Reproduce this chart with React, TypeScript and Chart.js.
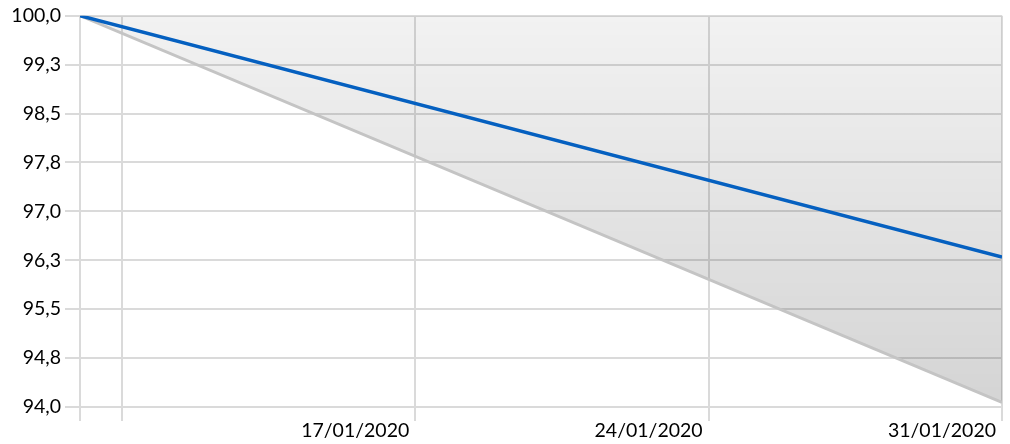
import React, { useEffect, useRef } from 'react';
import { Chart, registerables } from 'chart.js';

Chart.register(...registerables);

// ---- data ----
const pointDates = ['09/01/2020', '31/01/2020'];
const blueValues = [100.0, 96.3];
const grayValues = [100.0, 94.07];
const xTickDates = ['09/01/2020', '10/01/2020', '17/01/2020', '24/01/2020', '31/01/2020'];
const xTickLabels = ['', '', '17/01/2020', '24/01/2020', '31/01/2020'];
const yMin = 94;
const yMax = 100;
const yStep = 0.75;

const parseDate = (s: string) => {
  const [d, m, y] = s.split('/').map(Number);
  return Date.UTC(y, m - 1, d);
};
const baseTime = parseDate(pointDates[0]);
const dayIndex = (s: string) => Math.round((parseDate(s) - baseTime) / 86400000);

const FONT = { family: 'Lato', size: 19.5 };
const GRID = '#dadada';

export default function App() {
  const ref = useRef<HTMLCanvasElement | null>(null);

  useEffect(() => {
    if (!ref.current) return;
    const chart = new Chart(ref.current, {
      type: 'line',
      data: {
        datasets: [
          {
            label: 'blue',
            data: pointDates.map((d, i) => ({ x: dayIndex(d), y: blueValues[i] })),
            borderColor: '#0560c0',
            borderWidth: 3.5,
            pointRadius: 0,
            fill: false,
            tension: 0,
          },
          {
            label: 'gray',
            data: pointDates.map((d, i) => ({ x: dayIndex(d), y: grayValues[i] })),
            borderColor: '#c4c4c4',
            borderWidth: 3,
            pointRadius: 0,
            tension: 0,
            fill: 'end',
            backgroundColor: (ctx: any) => {
              const { chart } = ctx;
              const area = chart.chartArea;
              if (!area) return 'rgba(0,0,0,0.1)';
              const g = chart.ctx.createLinearGradient(0, area.top, 0, area.bottom);
              g.addColorStop(0, 'rgba(0,0,0,0.05)');
              g.addColorStop(1, 'rgba(0,0,0,0.17)');
              return g;
            },
          },
        ],
      },
      options: {
        animation: false,
        responsive: true,
        maintainAspectRatio: false,
        layout: { padding: { top: 15, right: 8, left: 0, bottom: 0 } },
        plugins: { legend: { display: false }, tooltip: { enabled: false } },
        scales: {
          x: {
            type: 'linear',
            min: dayIndex(xTickDates[0]),
            max: dayIndex(xTickDates[xTickDates.length - 1]),
            afterBuildTicks: (scale: any) => {
              scale.ticks = xTickDates.map((d) => ({ value: dayIndex(d) }));
            },
            afterFit: (scale: any) => {
              scale.height = 37;
            },
            grid: { color: GRID, lineWidth: 2, tickLength: 14, drawTicks: true },
            border: { display: false },
            ticks: {
              autoSkip: false,
              maxRotation: 0,
              align: 'end',
              labelOffset: -6,
              padding: -2,
              color: '#000',
              font: FONT,
              callback: (v: any) => {
                const idx = xTickDates.findIndex((d) => dayIndex(d) === v);
                return idx >= 0 ? xTickLabels[idx] : '';
              },
            },
          },
          y: {
            type: 'linear',
            min: yMin,
            max: yMax,
            afterFit: (scale: any) => {
              scale.width = 80;
            },
            grid: { color: GRID, lineWidth: 2, tickLength: 15, drawTicks: true },
            border: { display: false },
            ticks: {
              stepSize: yStep,
              padding: 4,
              color: '#000',
              font: FONT,
              callback: (v: any) => Number(v).toFixed(1).replace('.', ','),
            },
          },
        },
      },
    } as any);
    return () => chart.destroy();
  }, []);

  return (
    <div style={{ position: 'fixed', left: 0, top: 0, width: 1010, height: 444, background: '#fff' }}>
      <canvas ref={ref} />
    </div>
  );
}
